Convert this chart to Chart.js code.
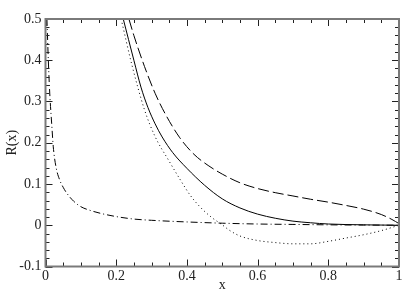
<!DOCTYPE html>
<html lang="en">
<head>
    <meta charset="UTF-8">
    <title>R(x)</title>
    <script src="https://cdn.jsdelivr.net/npm/chart.js"></script>
    <style>
        body { margin: 0; background: #fff; }
    </style>
</head>
<body>
    <canvas id="rChart" width="415" height="296"></canvas>
    <script>
        // curves
        const solidX = [0.22, 0.25, 0.27, 0.29, 0.31, 0.33, 0.36, 0.40, 0.45, 0.50, 0.55, 0.60, 0.65, 0.70, 0.75, 0.80, 0.90, 1.00];
        const solidR = [0.50, 0.40, 0.335, 0.285, 0.246, 0.214, 0.176, 0.138, 0.097, 0.064, 0.042, 0.027, 0.017, 0.010, 0.006, 0.003, 0.001, 0.0];

        const dashX = [0.236, 0.25, 0.28, 0.31, 0.34, 0.38, 0.42, 0.46, 0.50, 0.55, 0.60, 0.65, 0.70, 0.75, 0.80, 0.85, 0.90, 0.95, 0.98, 1.00];
        const dashR = [0.50, 0.46, 0.385, 0.32, 0.268, 0.212, 0.172, 0.145, 0.124, 0.103, 0.089, 0.079, 0.071, 0.063, 0.056, 0.048, 0.039, 0.026, 0.014, 0.004];

        const dotX = [0.214, 0.244, 0.28, 0.31, 0.35, 0.38, 0.41, 0.44, 0.47, 0.50, 0.52, 0.55, 0.60, 0.65, 0.70, 0.75, 0.80, 0.85, 0.90, 0.95, 1.00];
        const dotR = [0.50, 0.39, 0.28, 0.215, 0.155, 0.112, 0.072, 0.042, 0.019, 0.001, -0.012, -0.026, -0.037, -0.042, -0.045, -0.045, -0.039, -0.031, -0.023, -0.013, 0.0];

        const dashDotX = [0.004, 0.008, 0.012, 0.018, 0.022, 0.03, 0.04, 0.05, 0.06, 0.08, 0.10, 0.13, 0.16, 0.20, 0.25, 0.30, 0.40, 0.50, 0.60, 0.70, 0.80, 0.90, 1.00];
        const dashDotR = [0.50, 0.40, 0.32, 0.24, 0.19, 0.14, 0.11, 0.092, 0.078, 0.058, 0.045, 0.035, 0.028, 0.021, 0.015, 0.012, 0.008, 0.005, 0.003, 0.002, 0.001, 0.0005, 0.0];

        const xTicks = [0, 0.2, 0.4, 0.6, 0.8, 1];
        const yTicks = [-0.1, 0, 0.1, 0.2, 0.3, 0.4, 0.5];
        const xMinorStep = 0.05;
        const yMinorStep = 0.02;

        function pts(xs, ys) {
            return xs.map((x, i) => ({ x: x, y: ys[i] }));
        }

        function curve(xs, ys, dash) {
            return {
                data: pts(xs, ys),
                borderColor: '#000',
                borderWidth: 1,
                borderDash: dash,
                pointRadius: 0,
                fill: false,
                cubicInterpolationMode: 'monotone'
            };
        }

        // tick label like the original: 0, 0.2, ..., 1
        function fmt(v) {
            const r = Math.round(v * 10) / 10;
            return r === 0 ? '0' : String(r);
        }

        // frame with inward ticks on all four sides
        const frame = {
            id: 'frame',
            afterDraw(chart) {
                const { ctx, chartArea: a, scales } = chart;
                const xs = scales.x, ys = scales.y;
                ctx.save();
                ctx.strokeStyle = '#222';
                ctx.lineWidth = 1;
                ctx.beginPath();
                const nx = Math.round((xs.max - xs.min) / xMinorStep);
                for (let i = 0; i <= nx; i++) {
                    const v = xs.min + i * xMinorStep;
                    const len = xTicks.some(t => Math.abs(t - v) < 1e-6) ? 7 : 4;
                    const px = Math.round(xs.getPixelForValue(v)) + 0.5;
                    ctx.moveTo(px, a.bottom); ctx.lineTo(px, a.bottom - len);
                    ctx.moveTo(px, a.top); ctx.lineTo(px, a.top + len);
                }
                const ny = Math.round((ys.max - ys.min) / yMinorStep);
                for (let i = 0; i <= ny; i++) {
                    const v = ys.min + i * yMinorStep;
                    const len = yTicks.some(t => Math.abs(t - v) < 1e-6) ? 7 : 4;
                    const py = Math.round(ys.getPixelForValue(v)) + 0.5;
                    ctx.moveTo(a.left, py); ctx.lineTo(a.left + len, py);
                    ctx.moveTo(a.right, py); ctx.lineTo(a.right - len, py);
                }
                ctx.stroke();
                ctx.strokeStyle = '#7a7a7a';
                ctx.lineWidth = 2;
                ctx.strokeRect(a.left, a.top, a.right - a.left, a.bottom - a.top);
                ctx.restore();
            }
        };

        const font = { family: "'Liberation Serif', 'Times New Roman', serif", size: 14 };

        new Chart(document.getElementById('rChart').getContext('2d'), {
            type: 'line',
            data: {
                datasets: [
                    curve(solidX, solidR, []),
                    curve(dashX, dashR, [11, 4]),
                    curve(dotX, dotR, [1, 3]),
                    curve(dashDotX, dashDotR, [7, 3, 1, 3])
                ]
            },
            options: {
                responsive: false,
                animation: false,
                layout: { padding: { top: 19, right: 16 } },
                plugins: { legend: { display: false }, tooltip: { enabled: false } },
                scales: {
                    x: {
                        type: 'linear',
                        min: 0,
                        max: 1,
                        afterFit: s => { s.height = 29.5; },
                        grid: { display: false, drawTicks: false },
                        border: { display: false },
                        ticks: {
                            stepSize: 0.2,
                            padding: 1,
                            color: '#222',
                            font: font,
                            maxRotation: 0,
                            callback: fmt
                        },
                        title: { display: true, text: 'x', color: '#222', font: font, padding: { top: 0, bottom: 2 } }
                    },
                    y: {
                        min: -0.1,
                        max: 0.5,
                        afterFit: s => { s.width = 45.5; },
                        grid: { display: false, drawTicks: false },
                        border: { display: false },
                        ticks: {
                            stepSize: 0.1,
                            padding: 4,
                            color: '#222',
                            font: font,
                            callback: fmt
                        },
                        title: { display: true, text: 'R(x)', color: '#222', font: font, padding: { top: 4, bottom: 0 } }
                    }
                }
            },
            plugins: [frame]
        });
    </script>
</body>
</html>
